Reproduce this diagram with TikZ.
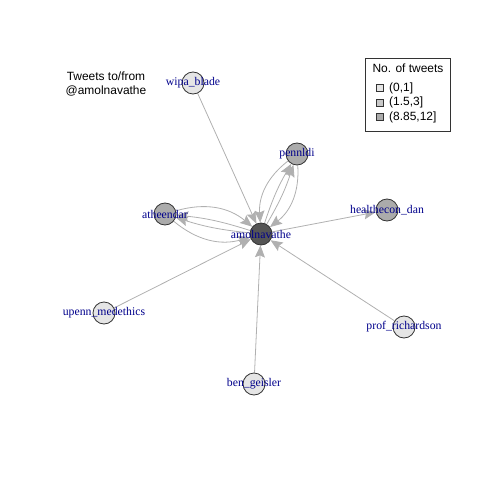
\documentclass[tikz,border=0pt]{standalone}
\usepackage{fontspec}
\setmainfont{Liberation Serif}
\newfontfamily\sansfont{Liberation Sans}
\usetikzlibrary{arrows.meta,backgrounds}
\definecolor{edgecol}{HTML}{B0B0B0}
\definecolor{lblcol}{HTML}{00008B}
\definecolor{lightfill}{HTML}{E5E5E5}
\definecolor{midfill}{HTML}{ABABAB}
\definecolor{darkfill}{HTML}{555555}
\definecolor{legmid}{HTML}{C8C8C8}
\tikzset{
  vtx/.style={circle, draw=black!80, line width=0.8bp, minimum size=22bp, inner sep=0pt},
  vlab/.style={label={[text=lblcol, font=\fontsize{11.8}{13}\selectfont, inner sep=0pt]center:#1}},
  edge/.style={draw=edgecol, line width=0.8bp, -{Stealth[length=12bp,width=10bp,inset=2bp]}},
  sanstext/.style={font=\sansfont\fontsize{12}{14.5}\selectfont, text=black, inner sep=0pt},
  legsq/.style={draw=black!80, line width=0.6bp, minimum size=7bp, inner sep=0pt}
}
\begin{document}
\begin{tikzpicture}[x=1bp,y=-1bp]
\useasboundingbox (0,0) rectangle (480,480);
% vertices
\node[vtx, fill=darkfill, vlab=amolnavathe] (amol) at (261,234) {};
\node[vtx, fill=lightfill, vlab=wipa\_blade] (wipa) at (193,83) {};
\node[vtx, fill=midfill, vlab=pennldi] (penn) at (297,154) {};
\node[vtx, fill=midfill, vlab=atheendar] (ath) at (165,214) {};
\node[vtx, fill=midfill, vlab=healthecon\_dan] (health) at (387,210) {};
\node[vtx, fill=lightfill, vlab=upenn\_medethics] (upenn) at (104,313) {};
\node[vtx, fill=lightfill, vlab=prof\_richardson] (prof) at (404,327) {};
\node[vtx, fill=lightfill, vlab=ben\_geisler] (ben) at (254,384) {};
% edges
\begin{scope}[on background layer]
\draw[edge] (wipa) -- (amol);
\draw[edge] (upenn) -- (amol);
\draw[edge] (ben) -- (amol);
\draw[edge] (prof) -- (amol);
\draw[edge] (amol) -- (health);
\draw[edge] (ath) to[bend left=28] (amol);
\draw[edge] (ath) to[bend right=28] (amol);
\draw[edge] (amol) to[bend left=6] (ath);
\draw[edge] (amol) to[bend right=6] (ath);
\draw[edge] (penn) to[bend left=28] (amol);
\draw[edge] (penn) to[bend right=28] (amol);
\draw[edge] (amol) to[bend left=6] (penn);
\draw[edge] (amol) to[bend right=6] (penn);
\end{scope}
% title
\node[sanstext, align=center] (title) at (106,84) {Tweets to/from\\@amolnavathe};
% legend
\node[draw=black!80, line width=0.8bp, minimum width=85bp, minimum height=73bp, inner sep=0pt] (legbox) at (407.5,94.5) {};
\node[sanstext] (legtitle) at (408,68) {No. of tweets};
\node[legsq, fill=lightfill] (sq1) at (380,88) {};
\node[legsq, fill=legmid] (sq2) at (380,102.5) {};
\node[legsq, fill=midfill] (sq3) at (380,117) {};
\node[sanstext, anchor=west] (l1) at (389,88) {(0,1]};
\node[sanstext, anchor=west] (l2) at (389,102.5) {(1.5,3]};
\node[sanstext, anchor=west] (l3) at (389,117) {(8.85,12]};
\end{tikzpicture}
\end{document}
